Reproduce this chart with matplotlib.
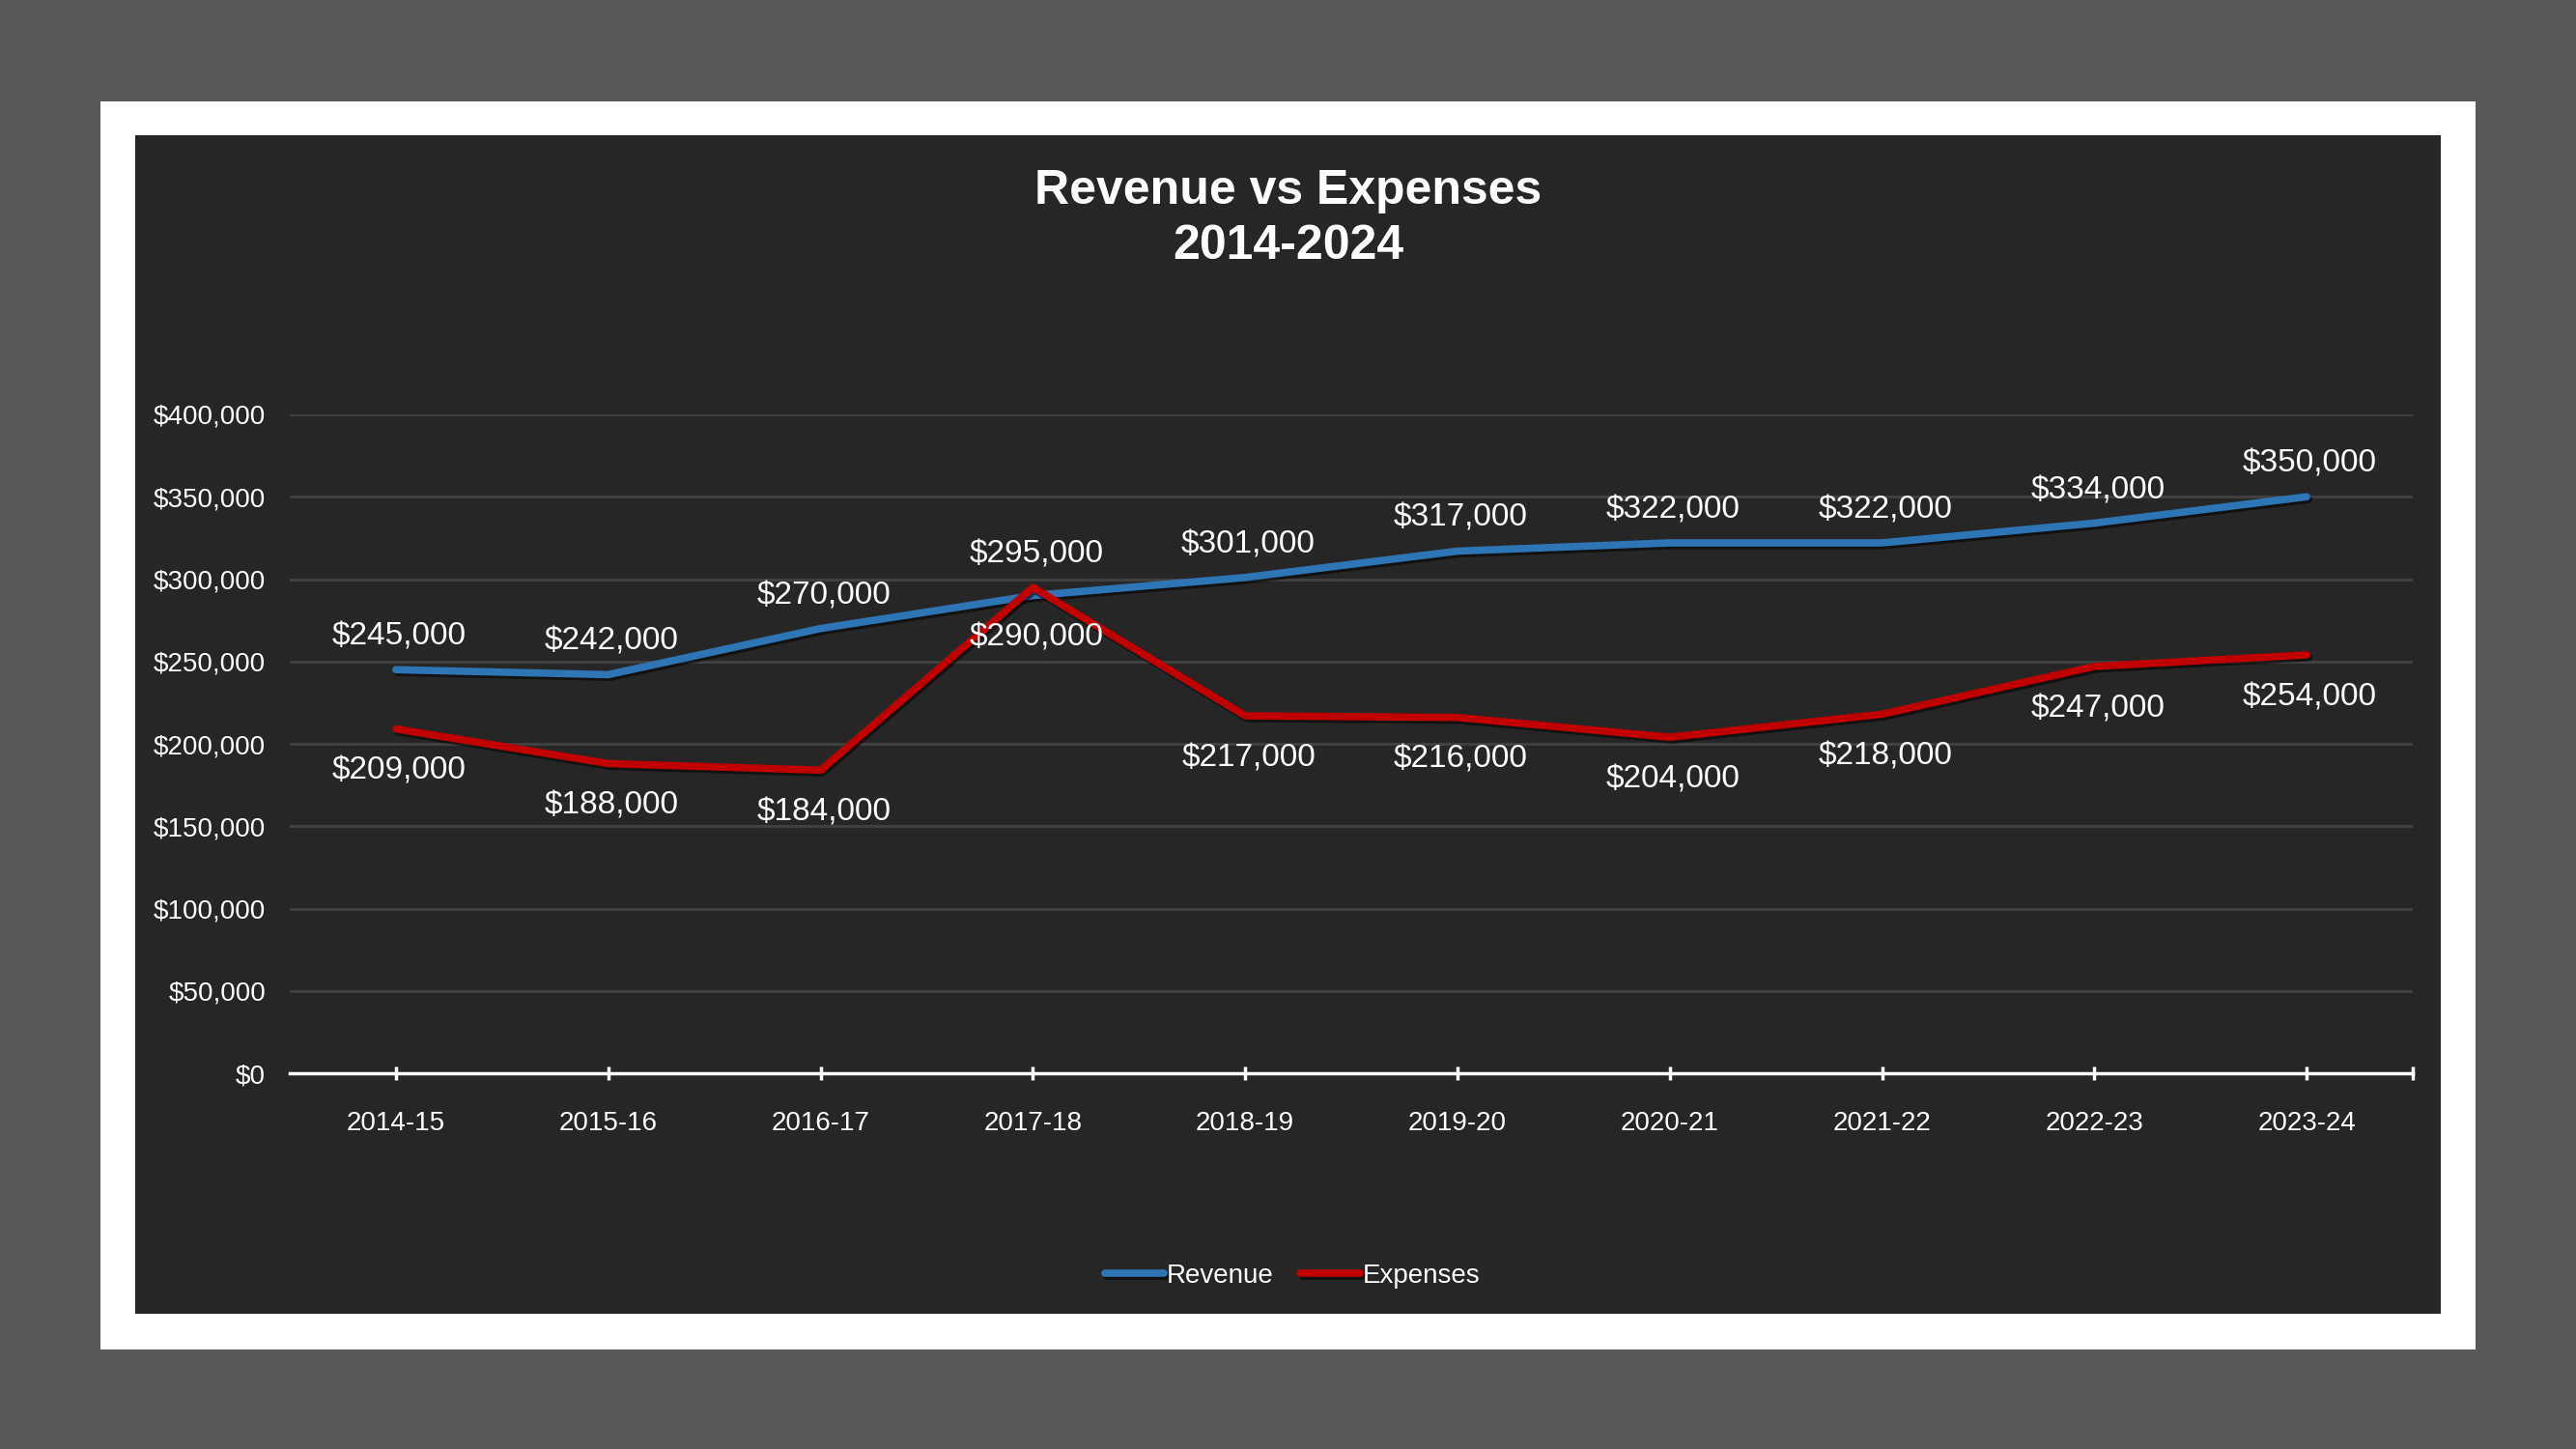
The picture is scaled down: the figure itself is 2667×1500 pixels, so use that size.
import matplotlib.pyplot as plt
import matplotlib.patheffects as pe
from matplotlib.patches import Rectangle
from matplotlib.ticker import FuncFormatter

plt.rcParams['font.family'] = ['Liberation Sans', 'DejaVu Sans']

# data
years = ["2014-15", "2015-16", "2016-17", "2017-18", "2018-19",
         "2019-20", "2020-21", "2021-22", "2022-23", "2023-24"]
revenue = [245000, 242000, 270000, 290000, 301000, 317000, 322000, 322000, 334000, 350000]
expenses = [209000, 188000, 184000, 295000, 217000, 216000, 204000, 218000, 247000, 254000]

W, H = 2667, 1500
fig = plt.figure(figsize=(W / 100, H / 100), dpi=100, facecolor="#595959")


def box(x0, y0, x1, y1, color, z):
    # rectangle given in pixel coords (top-left origin)
    fig.add_artist(Rectangle((x0 / W, 1 - y1 / H), (x1 - x0) / W, (y1 - y0) / H,
                             transform=fig.transFigure, facecolor=color,
                             edgecolor="none", zorder=z))


box(104, 105, 2563, 1397, "white", -3)
box(140, 140, 2527, 1360, "#262626", -2)

ax = fig.add_axes([300 / W, 1 - 1111 / H, (2498 - 300) / W, (1111 - 429) / H])
ax.set_facecolor("none")

x = list(range(len(years)))
shadow = [pe.SimpleLineShadow(offset=(1.5, -2), shadow_color="black", alpha=0.55), pe.Normal()]
ax.plot(x, revenue, color="#2E75B6", lw=5.5, solid_capstyle="round",
        solid_joinstyle="round", path_effects=shadow, label="Revenue", zorder=3)
ax.plot(x, expenses, color="#C00000", lw=5.5, solid_capstyle="round",
        solid_joinstyle="round", path_effects=shadow, label="Expenses", zorder=3)

# data labels: higher series above, lower below
for i in x:
    for v, other in ((revenue[i], expenses[i]), (expenses[i], revenue[i])):
        dy = 24.5 if v >= other else -31.5
        ax.annotate(f"${v:,.0f}", (i, v), xytext=(2.5, dy), textcoords="offset points",
                    ha="center", va="center", fontsize=24, color="white", zorder=4)

ax.set_xlim(-0.5, len(years) - 0.5)
ax.set_ylim(0, 400000)
ax.set_yticks(range(0, 400001, 50000))
ax.yaxis.set_major_formatter(FuncFormatter(lambda v, p: f"${v:,.0f}"))
ax.set_xticks(x)
ax.set_xticklabels(years)
ax.set_xticks([len(years) - 0.5], minor=True)

for s in ["top", "right", "left"]:
    ax.spines[s].set_visible(False)
ax.spines["bottom"].set_color("white")
ax.spines["bottom"].set_linewidth(2.5)

ax.yaxis.grid(True, color="#404040", lw=2.2)
ax.set_axisbelow(True)
ax.tick_params(axis="y", length=0, pad=18, labelsize=20, labelcolor="white")
ax.tick_params(axis="x", which="both", direction="inout", length=9.5, width=2.5,
               color="white", pad=23.5, labelsize=20, labelcolor="white")

fig.legend(loc="center", bbox_to_anchor=(1338 / W, 1 - 1321 / H), ncol=2,
           frameon=False, fontsize=20, labelcolor="white", handlelength=2.2,
           handletextpad=0.1, columnspacing=1.0)

fig.text(0.5, 1 - 211 / H, "Revenue vs Expenses", ha="center", va="baseline",
         fontsize=36, fontweight="bold", color="white")
fig.text(0.5, 1 - 268 / H, "2014-2024", ha="center", va="baseline",
         fontsize=36, fontweight="bold", color="white")

fig.savefig("out.png", dpi=100, facecolor=fig.get_facecolor())
